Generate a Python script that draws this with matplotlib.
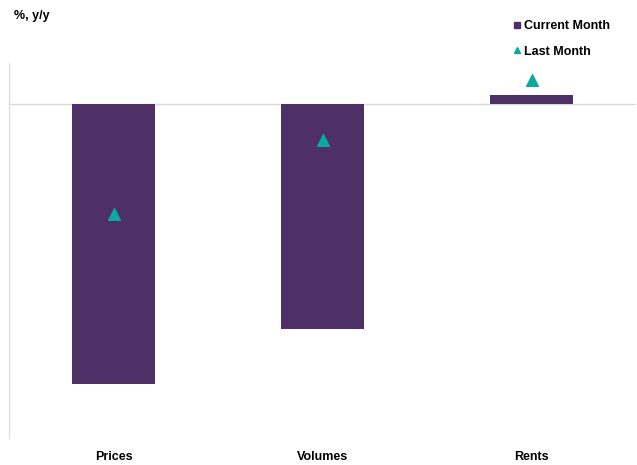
import matplotlib.pyplot as plt
from matplotlib.lines import Line2D
import numpy as np

plt.rcParams['font.family'] = ['Liberation Sans', 'DejaVu Sans']

categories = ['Prices', 'Volumes', 'Rents']
current_month = [-11.2, -9.0, 0.36]
last_month = [-4.4, -1.45, 0.95]

bar_color = '#4F3066'
tri_color = '#0BAA9E'

fig = plt.figure(figsize=(6.37, 4.65), dpi=100)
ax = fig.add_axes([9 / 637, 27 / 465, 627 / 637, 375 / 465])

x = np.arange(len(categories))
ax.bar(x, current_month, width=0.4, color=bar_color, zorder=2)
ax.scatter(x, last_month, marker='^', s=70, color=tri_color, zorder=3)

ax.axhline(0, color='#D9D9D9', lw=1, zorder=1)
ax.set_xlim(-0.5, 2.5)
ax.set_ylim(-13.36, 1.64)

for s in ['top', 'right', 'bottom']:
    ax.spines[s].set_visible(False)
ax.spines['left'].set_color('#D9D9D9')
ax.set_yticks([])
ax.set_xticks(x)
ax.set_xticklabels(categories, fontsize=9, fontweight='bold')
ax.tick_params(axis='x', length=0, pad=9)

fig.text(14 / 637, 1 - 16 / 465, '%, y/y', fontsize=9, fontweight='bold', va='center', ha='left')

handles = [Line2D([], [], ls='none', marker='s', ms=5, color=bar_color),
           Line2D([], [], ls='none', marker='^', ms=5, color=tri_color)]
fig.legend(handles, ['Current Month', 'Last Month'], loc='upper left',
           bbox_to_anchor=(508 / 637, 1 - 15 / 465), frameon=False,
           prop={'size': 9, 'weight': 'bold'}, handlelength=0.6, handletextpad=0.25,
           labelspacing=1.1, borderaxespad=0)

fig.savefig('out.png', dpi=100)
